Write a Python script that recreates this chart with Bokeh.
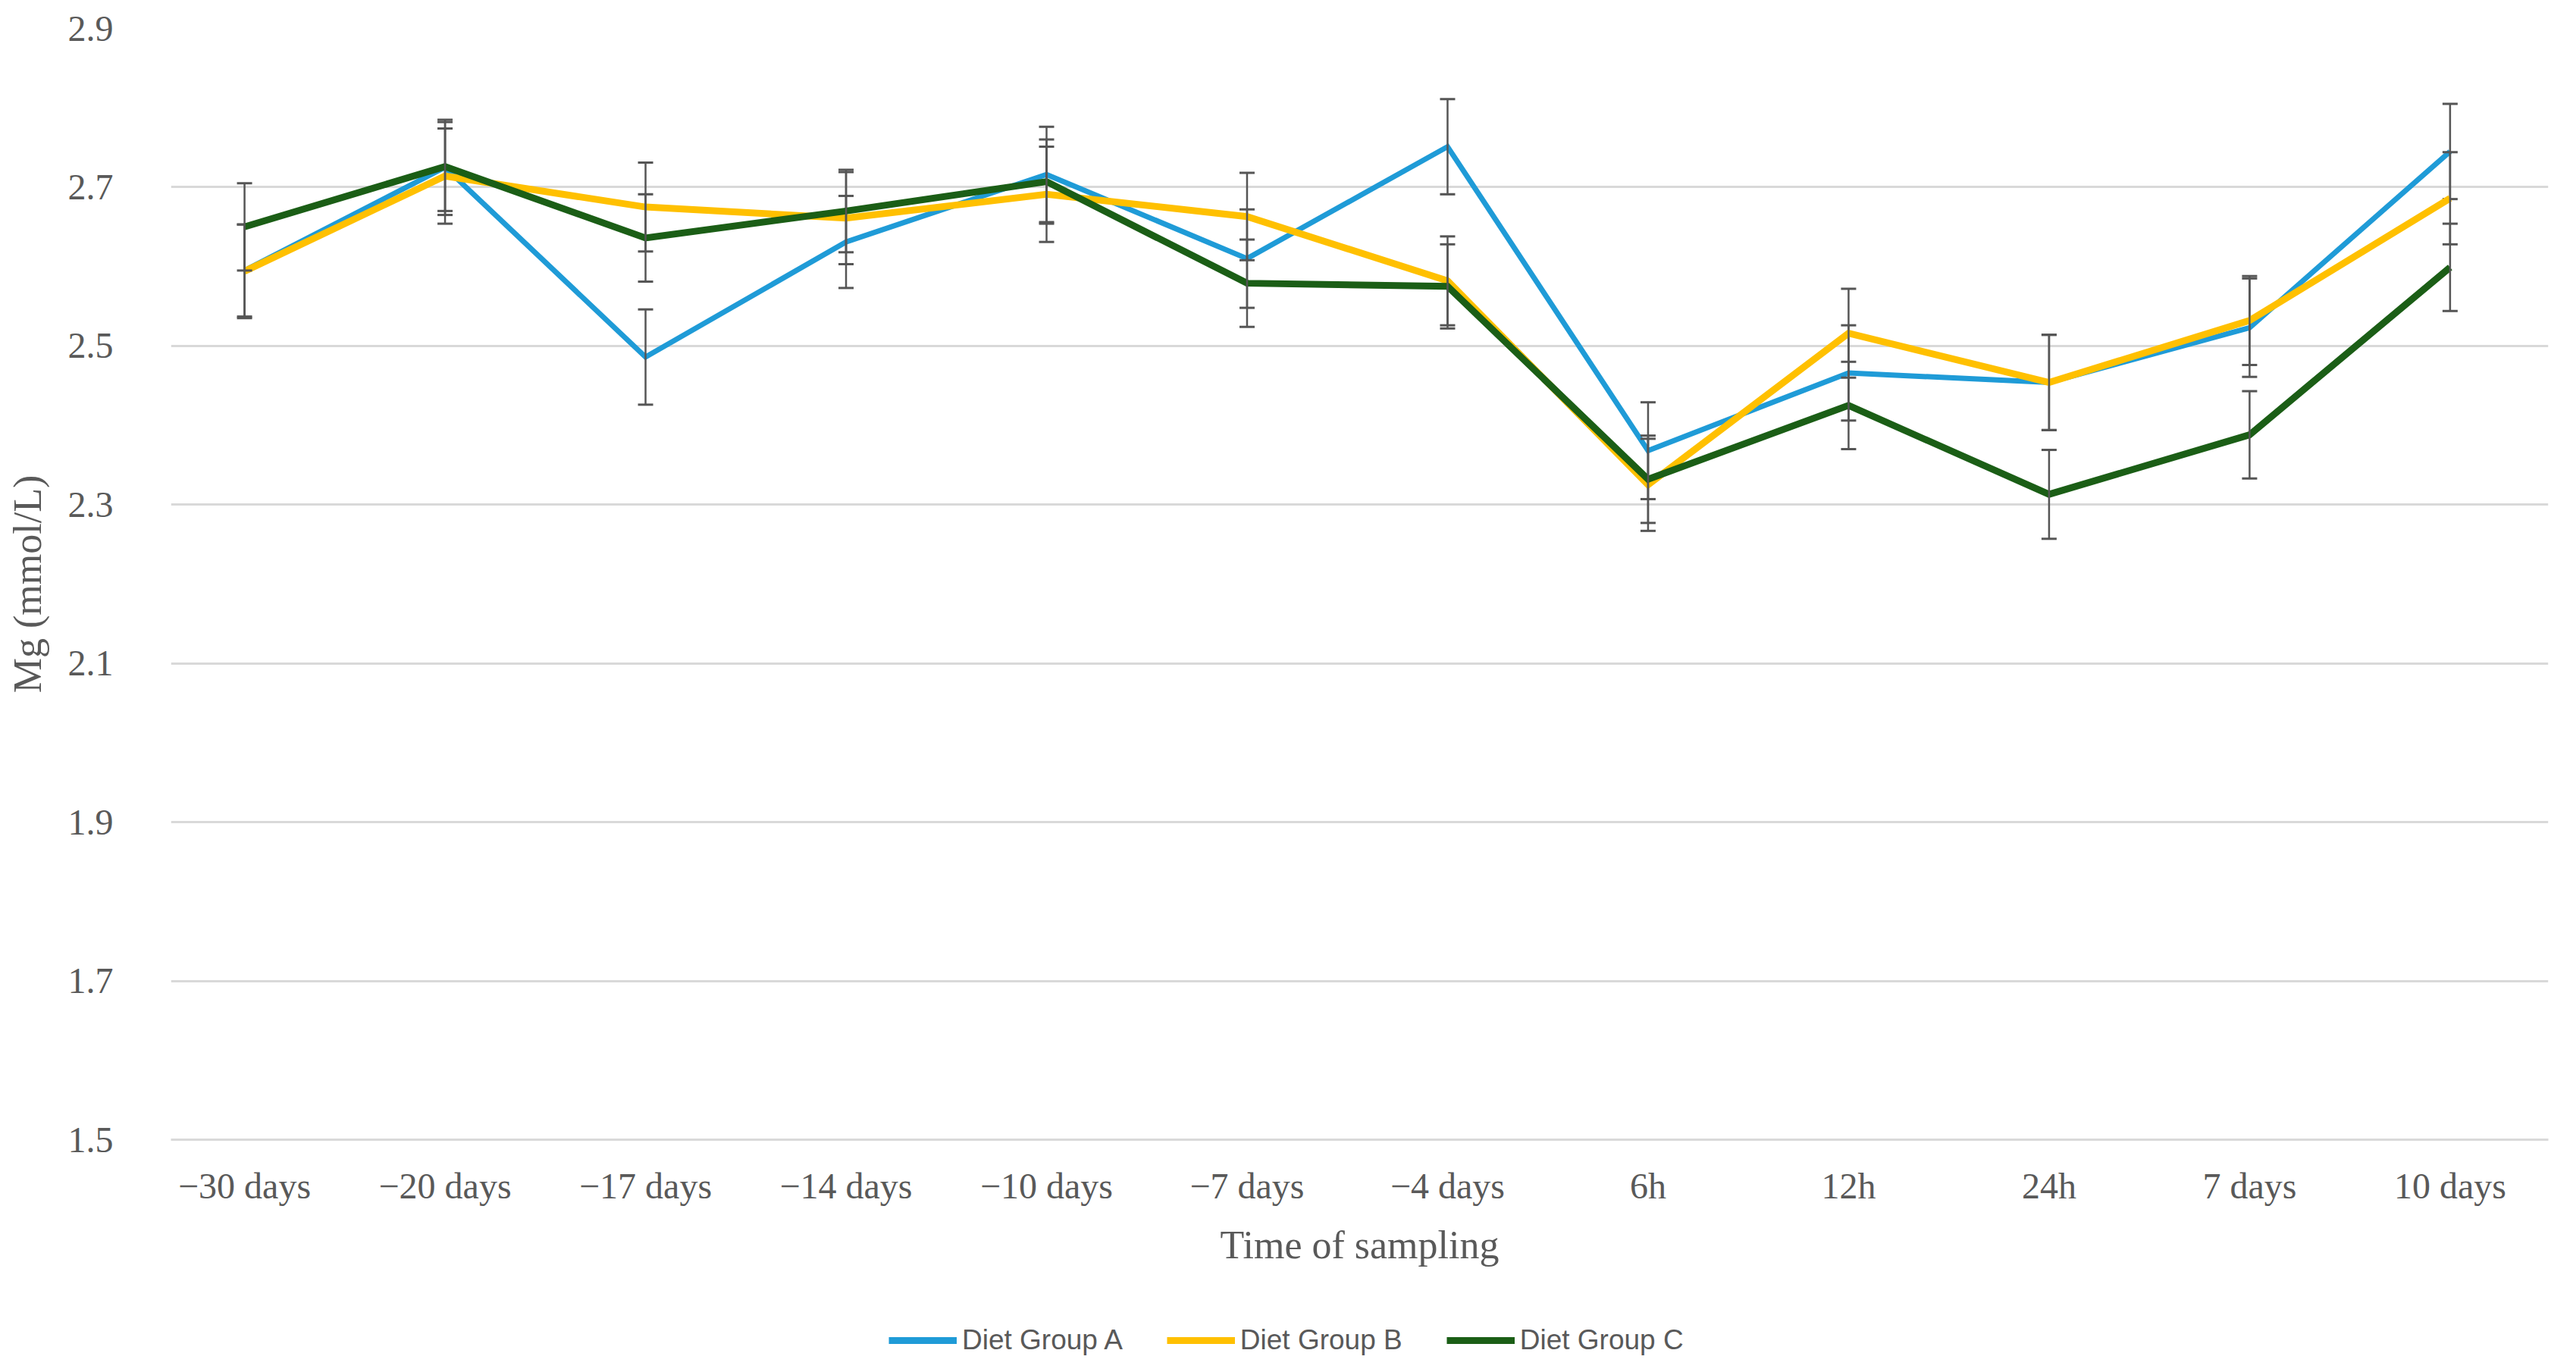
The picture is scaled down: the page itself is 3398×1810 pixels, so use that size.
from bokeh.plotting import figure
from bokeh.layouts import column
from bokeh.models import (FixedTicker, Range1d, Legend, LegendItem, ColumnDataSource)
from bokeh.embed import file_html
from bokeh.resources import INLINE

# ---------------- data ----------------
categories = ["\u221230 days", "\u221220 days", "\u221217 days", "\u221214 days", "\u221210 days",
              "\u22127 days", "\u22124 days", "6h", "12h", "24h", "7 days", "10 days"]

group_a = [2.595, 2.725, 2.486, 2.631, 2.716, 2.610, 2.751, 2.368, 2.466, 2.454, 2.523, 2.745]
group_a_err = [0.058, 0.060, 0.060, 0.058, 0.060, 0.062, 0.060, 0.061, 0.060, 0.060, 0.062, 0.060]

group_b = [2.594, 2.714, 2.675, 2.661, 2.691, 2.663, 2.582, 2.325, 2.516, 2.454, 2.532, 2.686]
group_b_err = [0.059, 0.060, 0.056, 0.058, 0.060, 0.055, 0.056, 0.058, 0.056, 0.060, 0.056, 0.058]

group_c = [2.650, 2.726, 2.636, 2.670, 2.707, 2.579, 2.575, 2.332, 2.425, 2.313, 2.388, 2.599]
group_c_err = [0.055, 0.056, 0.055, 0.052, 0.053, 0.055, 0.053, 0.055, 0.055, 0.056, 0.055, 0.055]

series_names = ["Diet Group A", "Diet Group B", "Diet Group C"]
y_ticks = [1.5, 1.7, 1.9, 2.1, 2.3, 2.5, 2.7, 2.9]

# ---------------- styles ----------------
colors = ["#1f9bd7", "#ffc000", "#1b5e16"]
widths = [7, 9, 9]
err_color = "#555555"
text_color = "#595959"
serif = "Liberation Serif"

W = 3382
H_MAIN = 1714
H_LEG = 80

p = figure(width=W, height=H_MAIN, output_backend="svg", toolbar_location=None,
           x_range=Range1d(-0.367, 11.49), y_range=Range1d(1.5, 2.9),
           min_border_left=225, min_border_right=21, min_border_top=37, min_border_bottom=211)
p.outline_line_color = None
p.background_fill_color = "white"
p.border_fill_color = "white"

xs = list(range(len(categories)))
all_series = [group_a, group_b, group_c]

for vals, errs, col, lw in zip(all_series, [group_a_err, group_b_err, group_c_err], colors, widths):
    lo = [v - e for v, e in zip(vals, errs)]
    hi = [v + e for v, e in zip(vals, errs)]
    src = ColumnDataSource(dict(x=xs, y=vals, lo=lo, hi=hi))
    p.line("x", "y", source=src, line_color=col, line_width=lw, line_join="miter")
    p.segment(x0="x", y0="lo", x1="x", y1="hi", source=src, line_color=err_color, line_width=2.5)
    p.scatter("x", "hi", source=src, marker="dash", size=20, line_color=err_color, line_width=3)
    p.scatter("x", "lo", source=src, marker="dash", size=20, line_color=err_color, line_width=3)

# ---------------- axes ----------------
p.xaxis.ticker = FixedTicker(ticks=xs)
p.xaxis.major_label_overrides = {i: c for i, c in enumerate(categories)}
p.xaxis.axis_line_color = "#d9d9d9"
p.xaxis.axis_line_width = 3
p.xaxis.major_tick_line_color = None
p.xaxis.minor_tick_line_color = None
p.xaxis.major_tick_out = 0
p.xaxis.major_tick_in = 0
p.xaxis.major_label_standoff = 34
p.xaxis.major_label_text_font = serif
p.xaxis.major_label_text_font_size = "48px"
p.xaxis.major_label_text_color = text_color
p.xaxis.axis_label = "Time of sampling"
p.xaxis.axis_label_text_font = serif
p.xaxis.axis_label_text_font_size = "52px"
p.xaxis.axis_label_text_font_style = "normal"
p.xaxis.axis_label_text_color = text_color
p.xaxis.axis_label_standoff = 20

p.yaxis.ticker = FixedTicker(ticks=y_ticks)
p.yaxis.axis_line_color = None
p.yaxis.major_tick_line_color = None
p.yaxis.minor_tick_line_color = None
p.yaxis.major_tick_out = 0
p.yaxis.major_tick_in = 0
p.yaxis.major_label_standoff = 76
p.yaxis.major_label_text_font = serif
p.yaxis.major_label_text_font_size = "48px"
p.yaxis.major_label_text_color = text_color
p.yaxis.axis_label = "Mg (mmol/L)"
p.yaxis.axis_label_text_font = serif
p.yaxis.axis_label_text_font_size = "52px"
p.yaxis.axis_label_text_font_style = "normal"
p.yaxis.axis_label_text_color = text_color
p.yaxis.axis_label_standoff = 22

p.xgrid.grid_line_color = None
p.ygrid.grid_line_color = "#d9d9d9"
p.ygrid.grid_line_width = 3

# ---------------- legend (separate strip below the chart) ----------------
# The strip's y range excludes the series values, so its renderers only feed the legend.
pl = figure(width=W, height=H_LEG, output_backend="svg", toolbar_location=None,
            x_range=Range1d(-0.367, 11.49), y_range=Range1d(0, 1),
            min_border_left=0, min_border_right=0, min_border_top=0, min_border_bottom=0)
pl.axis.visible = False
pl.grid.grid_line_color = None
pl.outline_line_color = None
pl.background_fill_color = "white"
pl.border_fill_color = "white"

leg_renderers = []
for vals, col in zip(all_series, colors):
    src = ColumnDataSource(dict(x=xs, y=vals))
    leg_renderers.append(pl.line("x", "y", source=src, line_color=col, line_width=9))

legend = Legend(items=[LegendItem(label=n, renderers=[r]) for n, r in zip(series_names, leg_renderers)],
                orientation="horizontal", location=(947, 5),
                glyph_width=90, glyph_height=42, label_height=42, label_width=205,
                label_standoff=7, spacing=58, padding=0, margin=0,
                border_line_color=None, background_fill_alpha=0,
                label_text_font="Liberation Sans", label_text_font_size="37px",
                label_text_color=text_color)
pl.add_layout(legend, "center")

layout = column(p, pl, spacing=0)
open("out.html", "w").write(file_html(layout, INLINE))
